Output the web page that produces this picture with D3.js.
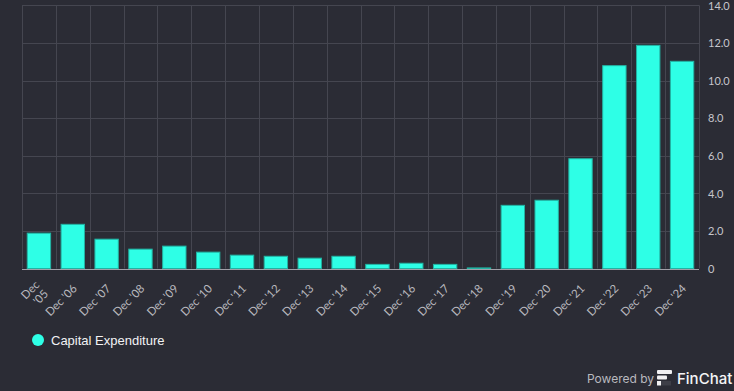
<!DOCTYPE html>
<html><head><meta charset="utf-8">
<script src="https://cdn.jsdelivr.net/npm/d3@7"></script>
<style>
html,body{margin:0;padding:0;background:#2b2c35;}
svg{display:block;}
</style></head>
<body>
<svg id="chart" width="734" height="391"></svg>
<script>
const categories = ["Dec '05","Dec '06","Dec '07","Dec '08","Dec '09","Dec '10","Dec '11","Dec '12","Dec '13","Dec '14","Dec '15","Dec '16","Dec '17","Dec '18","Dec '19","Dec '20","Dec '21","Dec '22","Dec '23","Dec '24"];
const capex = [1.88,2.35,1.56,1.03,1.19,0.87,0.71,0.65,0.55,0.65,0.22,0.28,0.22,0.03,3.36,3.63,5.84,10.79,11.87,11.02];
const yTicks = [0,2,4,6,8,10,12,14];
const seriesName = "Capital Expenditure";

const svg = d3.select("#chart");
const W = 734, H = 391;
const m = {left:22, right:35, top:5.3, bottom:122.5};
const x = d3.scaleBand().domain(categories).range([m.left, W - m.right]).paddingInner(0.28).paddingOuter(0.14);
const xg = d3.scaleBand().domain(categories).range([m.left, W - m.right]);
const y = d3.scaleLinear().domain([0,14]).range([H - m.bottom, m.top]);

svg.append("rect").attr("width",W).attr("height",H).attr("fill","#2b2c35");

svg.append("g").selectAll("line").data(yTicks).join("line")
  .attr("x1", m.left).attr("x2", W - m.right)
  .attr("y1", d => Math.round(y(d)) + 0.5).attr("y2", d => Math.round(y(d)) + 0.5)
  .attr("stroke", "#454650").attr("stroke-width", 1);
const vb = categories.map(c => xg(c)).concat([W - m.right]);
svg.append("g").selectAll("line").data(vb).join("line")
  .attr("x1", d => Math.round(d) + 0.5).attr("x2", d => Math.round(d) + 0.5)
  .attr("y1", m.top).attr("y2", H - m.bottom)
  .attr("stroke", "#454650").attr("stroke-width", 1);

svg.append("g").selectAll("rect").data(capex).join("rect")
  .attr("x", (d,i) => x(categories[i]) + 0.5)
  .attr("width", x.bandwidth() - 1)
  .attr("y", d => y(d))
  .attr("height", d => Math.max(0, y(0) - y(d)))
  .attr("fill", "#2effe6")
  .attr("stroke", "#22b3a3").attr("stroke-width", 1);

svg.append("line").attr("x1", m.left).attr("x2", W - m.right)
  .attr("y1", Math.round(y(0)) + 0.5).attr("y2", Math.round(y(0)) + 0.5)
  .attr("stroke", "#a0a0a8").attr("stroke-width", 1);

const yAxis = d3.axisRight(y).tickValues(yTicks).tickSize(0).tickPadding(9)
  .tickFormat(d => d === 0 ? "0" : d3.format(".1f")(d));
const ya = svg.append("g").attr("transform", `translate(${W - m.right},0)`).call(yAxis);
ya.select(".domain").remove();
ya.selectAll("text").attr("fill", "#c6c6cc").attr("font-family", "Lato, 'Open Sans', sans-serif")
  .attr("font-size", 11).attr("dy", "0.35em");

const xl = svg.append("g");
categories.forEach((c, i) => {
  const cx = xg(c) + xg.bandwidth() / 2 + 2;
  const cy = H - m.bottom + 18;
  const t = xl.append("text")
    .attr("transform", `translate(${cx},${cy}) rotate(-45)`)
    .attr("text-anchor", "end")
    .attr("fill", "#b8b8be")
    .attr("font-family", "Lato, 'Open Sans', sans-serif")
    .attr("font-size", 11.5);
  if (i === 0) {
    const parts = c.split(" ");
    t.append("tspan").attr("x", 0).attr("dy", "-0.1em").text(parts[0]);
    t.append("tspan").attr("x", 0).attr("dy", "1.1em").text(parts[1]);
  } else {
    t.append("tspan").attr("x", 0).attr("dy", "0.35em").text(c);
  }
});

svg.append("circle").attr("cx", 38).attr("cy", 340).attr("r", 6).attr("fill", "#2effe6");
svg.append("text").attr("x", 51).attr("y", 344.5).text(seriesName)
  .attr("fill", "#f2f2f4").attr("font-family", "'Liberation Sans', Arial, sans-serif")
  .attr("font-size", 13);

svg.append("text").attr("x", 587).attr("y", 383).text("Powered by")
  .attr("fill", "#b9b9bf").attr("font-family", "Inter, Lato, sans-serif").attr("font-size", 12);
const logo = svg.append("g").attr("transform", "translate(657,370)");
logo.append("rect").attr("x",0).attr("y",0).attr("width",15).attr("height",4).attr("rx",1).attr("fill","#f0f0f2");
logo.append("rect").attr("x",0).attr("y",5.5).attr("width",10).attr("height",4).attr("rx",1).attr("fill","#f0f0f2");
logo.append("rect").attr("x",0).attr("y",11).attr("width",4).attr("height",4.5).attr("fill","#f0f0f2");
logo.append("rect").attr("x",4).attr("y",11).attr("width",10).attr("height",4.5).attr("fill","#3d3e47");
svg.append("text").attr("x", 677).attr("y", 384).text("FinChat")
  .attr("fill", "#f4f4f6").attr("font-family", "Inter, Lato, sans-serif").attr("font-size", 15).attr("font-weight", 500);
</script>
</body></html>
